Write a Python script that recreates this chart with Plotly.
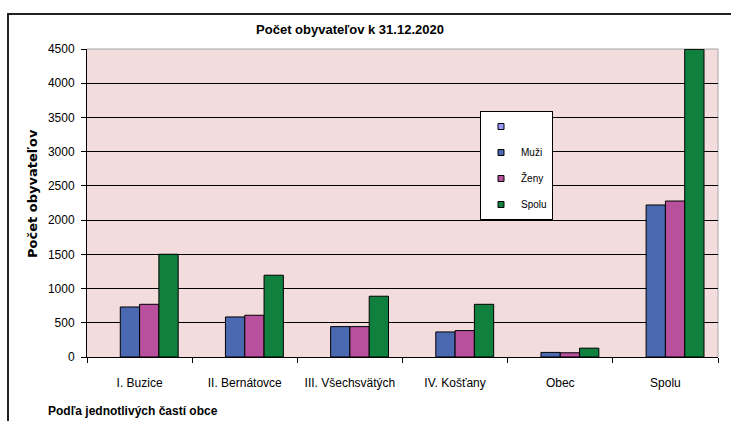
import plotly.graph_objects as go

categories = ["I. Buzice", "II. Bernátovce", "III. Všechsvätých", "IV. Košťany", "Obec", "Spolu"]
muzi = [731, 585, 444, 366, 67, 2221]
zeny = [770, 610, 444, 386, 62, 2279]
spolu = [1501, 1195, 888, 770, 129, 4495]
series_names = [" ", "Muži", "Ženy", "Spolu"]
series_colors = ["#9999FF", "#4A69B0", "#B8509E", "#10803F"]

W, H = 731, 421
L, R, T, B = 87, 13, 49, 64
pw, ph = W - L - R, H - T - B

def px_x(p):  # screen pixel -> paper x
    return (p - L) / pw

def px_y(p):  # screen pixel -> paper y
    return (H - B - p) / ph

FONT = "Liberation Sans, Arial, sans-serif"
bw = 0.1835
fig = go.Figure()
for i, (vals, name, col) in enumerate(zip([muzi, zeny, spolu], series_names[1:], series_colors[1:])):
    fig.add_trace(go.Bar(
        x=categories, y=vals, name=name, showlegend=False,
        width=bw, offset=-bw + i * bw,
        marker=dict(color=col, line=dict(color="#000000", width=1)),
    ))

for name, col in zip(series_names, series_colors):
    fig.add_trace(go.Scatter(
        x=[None], y=[None], mode="markers", name=name, legendgroup=name,
        marker=dict(symbol="square", size=6, color=col, line=dict(color="#000000", width=1)),
    ))

fig.update_layout(
    width=W, height=H,
    margin=dict(l=L, r=R, t=T, b=B, pad=0),
    paper_bgcolor="#FFFFFF",
    plot_bgcolor="#F3DCDC",
    barmode="overlay",
    font=dict(family=FONT, size=12, color="#000000"),
    title=dict(text="<b>Počet obyvateľov k 31.12.2020</b>", x=350 / W, xref="container", xanchor="center",
               y=1 - 29 / H, yref="container", yanchor="middle",
               font=dict(family=FONT, size=13, color="#000000")),
    showlegend=True,
    legend=dict(x=px_x(480), y=px_y(111), xanchor="left", yanchor="top",
                bgcolor="#FFFFFF", bordercolor="#000000", borderwidth=1,
                font=dict(family=FONT, size=10, color="#000000"),
                traceorder="grouped", tracegroupgap=7, itemwidth=30),
    xaxis=dict(type="category", showgrid=False, showline=True, linecolor="#000000", linewidth=1,
               ticks="outside", ticklen=5, tickcolor="#000000", tickson="boundaries",
               tickfont=dict(family=FONT, size=12), ticklabelstandoff=15, fixedrange=True),
    yaxis=dict(range=[0, 4500], dtick=500, showgrid=True, gridcolor="#000000", gridwidth=1,
               showline=True, linecolor="#000000", linewidth=1, zeroline=False,
               ticks="outside", ticklen=5, tickcolor="#000000",
               tickfont=dict(family=FONT, size=12), ticklabelstandoff=4, fixedrange=True),
    shapes=[
        # plot area gray top/right border
        dict(type="line", xref="paper", yref="paper", x0=0, x1=1, y0=1, y1=1,
             line=dict(color="#A6A6A6", width=1), layer="below"),
        dict(type="line", xref="paper", yref="paper", x0=1, x1=1, y0=0, y1=1,
             line=dict(color="#A6A6A6", width=1), layer="below"),
        # outer chart frame (top and left)
        dict(type="line", xref="paper", yref="paper", x0=px_x(7), x1=px_x(740), y0=px_y(14), y1=px_y(14),
             line=dict(color="#222222", width=2)),
        dict(type="line", xref="paper", yref="paper", x0=px_x(8), x1=px_x(8), y0=px_y(13), y1=px_y(430),
             line=dict(color="#222222", width=2)),
    ],
    annotations=[
        dict(text="<b>Počet obyvateľov</b>", xref="paper", yref="paper", x=px_x(32), y=px_y(193),
             textangle=-90, showarrow=False, xanchor="center", yanchor="middle",
             font=dict(family="DejaVu Sans, sans-serif", size=13, color="#000000")),
        dict(text="<b>Podľa jednotlivých častí obce</b>", xref="paper", yref="paper", x=px_x(46), y=px_y(411),
             showarrow=False, xanchor="left", yanchor="middle",
             font=dict(family=FONT, size=12, color="#000000")),
    ],
)

fig.write_html(
    "out.html",
    config={"displayModeBar": False, "staticPlot": False},
    post_script="document.body.style.margin='0';document.body.style.overflow='hidden';"
                "document.documentElement.style.overflow='hidden';",
)
